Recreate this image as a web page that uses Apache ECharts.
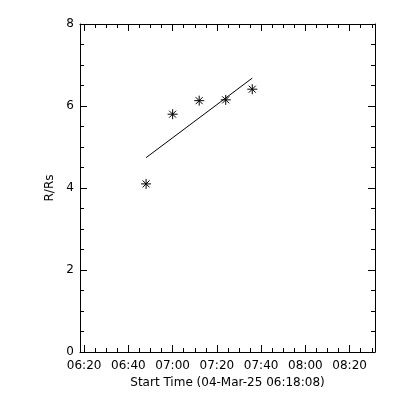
<!DOCTYPE html>
<html>
<head>
<meta charset="utf-8">
<script src="https://cdn.jsdelivr.net/npm/echarts@6/dist/echarts.min.js"></script>
<style>html,body{margin:0;padding:0;background:#fff;}#c{width:400px;height:400px;}</style>
</head>
<body>
<div id="c"></div>
<script>
// ---- data ----
var startTime = '06:18:08';
var axisSpanSeconds = 8000;
var pointTimes = ['06:48:00', '07:00:00', '07:12:00', '07:24:00', '07:36:00'];
var pointRadius = [4.10, 5.80, 6.13, 6.15, 6.41];
var fitTimes = ['06:48:00', '07:36:00'];
var fitRadius = [4.74, 6.68];
var majorTickLabels = ['06:20', '06:40', '07:00', '07:20', '07:40', '08:00', '08:20'];
var minorTickLabels = ['06:25','06:30','06:35','06:45','06:50','06:55','07:05','07:10','07:15','07:25','07:30','07:35','07:45','07:50','07:55','08:05','08:10','08:15','08:25','08:30'];
var yTicks = [0, 2, 4, 6, 8];
var xTitle = 'Start Time (04-Mar-25 06:18:08)';
var yTitle = 'R/Rs';

function sec(t) {
  var p = t.split(':').map(Number);
  return p[0] * 3600 + p[1] * 60 + (p[2] || 0);
}
function fmt(v) {
  var h = Math.floor(v / 3600), m = Math.round((v - h * 3600) / 60);
  return (h < 10 ? '0' : '') + h + ':' + (m < 10 ? '0' : '') + m;
}
var xMin = sec(startTime), xMax = xMin + axisSpanSeconds;
var majors = majorTickLabels.map(sec);
var minors = minorTickLabels.map(sec).filter(function (v) { return v <= xMax; });

var font = { fontFamily: 'DejaVu Sans', fontSize: 12, color: '#000' };
var lineSt = { color: '#000', width: 1 };

function xAx(pos, vals, len, labels, line, name) {
  return {
    type: 'value', position: pos, min: xMin, max: xMax,
    splitLine: { show: false },
    axisLine: { show: line, lineStyle: lineSt },
    axisTick: { show: true, inside: true, length: len, lineStyle: lineSt, customValues: vals },
    axisLabel: labels ? Object.assign({ show: true, margin: 8, customValues: vals, formatter: fmt }, font) : { show: false },
    name: name || '', nameLocation: 'middle', nameGap: 25,
    nameTextStyle: font
  };
}
function yAx(pos, labels, name) {
  return {
    type: 'value', position: pos, min: yTicks[0], max: yTicks[yTicks.length - 1],
    interval: yTicks[1] - yTicks[0],
    splitLine: { show: false },
    axisLine: { show: true, lineStyle: lineSt },
    axisTick: { show: true, inside: true, length: 7, lineStyle: lineSt },
    minorTick: { show: true, splitNumber: 4, length: 4, lineStyle: lineSt },
    axisLabel: labels ? Object.assign({ show: true, margin: 6 }, font) : { show: false },
    name: name || '', nameLocation: 'middle', nameGap: 19, nameRotate: 90,
    nameTextStyle: font
  };
}

var chart = echarts.init(document.getElementById('c'), null, { renderer: 'canvas' });
chart.setOption({
  backgroundColor: '#fff',
  animation: false,
  grid: { left: 80, right: 25, top: 24, bottom: 48, containLabel: false },
  xAxis: [
    xAx('bottom', majors, 7, true, true, xTitle),
    xAx('bottom', minors, 4, false, false),
    xAx('top', majors, 7, false, true),
    xAx('top', minors, 4, false, false)
  ],
  yAxis: [
    yAx('left', true, yTitle),
    yAx('right', false)
  ],
  series: [
    {
      type: 'line', xAxisIndex: 0, yAxisIndex: 0,
      data: fitTimes.map(function (t, i) { return [sec(t), fitRadius[i]]; }),
      showSymbol: false, symbol: 'none',
      lineStyle: { color: '#000', width: 1 }
    },
    {
      type: 'scatter', xAxisIndex: 0, yAxisIndex: 0,
      data: pointTimes.map(function (t, i) { return [sec(t), pointRadius[i]]; }),
      symbol: 'path://M5,0L5,10M0,5L10,5M1.5,1.5L8.5,8.5M1.5,8.5L8.5,1.5',
      symbolSize: 10,
      itemStyle: { color: 'rgba(0,0,0,0)', borderColor: '#000', borderWidth: 1, opacity: 1 }
    }
  ]
});
</script>
</body>
</html>
